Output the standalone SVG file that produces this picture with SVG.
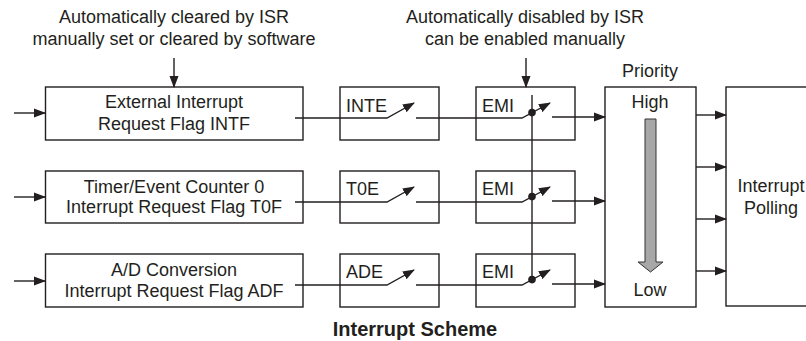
<svg xmlns="http://www.w3.org/2000/svg" width="806" height="341" viewBox="0 0 806 341">
<defs>
<style>
.box{fill:#fff;stroke:#231f20;stroke-width:1.4}
.ln{fill:none;stroke:#231f20;stroke-width:1.4}
.t{font-family:"Liberation Sans",Arial,sans-serif;font-size:18px;fill:#231f20}
.c{text-anchor:middle}
.b{font-weight:bold;font-size:20px}
</style>
<marker id="ah" markerWidth="12" markerHeight="10" refX="11" refY="5" orient="auto" markerUnits="userSpaceOnUse"><path d="M0,0.5 L12,5 L0,9.5 z" fill="#231f20"/></marker>
</defs>
<rect width="806" height="341" fill="#fff"/>

<g id="note-flag">
<text class="t c" x="174" y="23">Automatically cleared by ISR</text>
<text class="t c" x="174" y="45">manually set or cleared by software</text>
</g>
<g id="note-emi">
<text class="t c" x="525" y="23">Automatically disabled by ISR</text>
<text class="t c" x="525" y="45">can be enabled manually</text>
</g>

<g id="flag-intf">
<rect class="box" x="45.5" y="87" width="257.5" height="53"/>
<text class="t c" x="174" y="108">External Interrupt</text>
<text class="t c" x="174" y="130">Request Flag INTF</text>
</g>
<g id="flag-t0f">
<rect class="box" x="45.5" y="171" width="257.5" height="52"/>
<text class="t c" x="174" y="193">Timer/Event Counter 0</text>
<text class="t c" x="174" y="213">Interrupt Request Flag T0F</text>
</g>
<g id="flag-adf">
<rect class="box" x="45.5" y="254" width="257.5" height="53"/>
<text class="t c" x="174" y="276">A/D Conversion</text>
<text class="t c" x="174" y="297">Interrupt Request Flag ADF</text>
</g>

<g id="sw-inte">
<rect class="box" x="340" y="87" width="99" height="53"/>
<text class="t" x="346" y="112">INTE</text>
</g>
<g id="sw-t0e">
<rect class="box" x="340" y="171" width="99" height="52"/>
<text class="t" x="346" y="195">T0E</text>
</g>
<g id="sw-ade">
<rect class="box" x="340" y="254" width="99" height="53"/>
<text class="t" x="346" y="278">ADE</text>
</g>

<g id="emi-1">
<rect class="box" x="476" y="87" width="99" height="53"/>
<text class="t" x="482" y="112">EMI</text>
</g>
<g id="emi-2">
<rect class="box" x="476" y="171" width="99" height="52"/>
<text class="t" x="482" y="195">EMI</text>
</g>
<g id="emi-3">
<rect class="box" x="476" y="254" width="99" height="53"/>
<text class="t" x="482" y="278">EMI</text>
</g>

<g id="priority">
<text class="t c" x="650" y="77">Priority</text>
<rect class="box" x="605" y="87" width="91" height="220"/>
<text class="t c" x="650" y="108">High</text>
<text class="t c" x="650" y="296">Low</text>
<path d="M645,119 H656 V262 H663 L650.5,272 L638,262 H645 Z" fill="#a7a7a7" stroke="#333" stroke-width="1"/>
</g>

<g id="polling">
<rect class="box" x="726" y="87" width="90" height="219"/>
<text class="t c" x="771" y="192">Interrupt</text>
<text class="t c" x="771" y="214">Polling</text>
</g>

<g id="connectors">
<line class="ln" x1="174" y1="58" x2="174" y2="87" marker-end="url(#ah)"/>
<line class="ln" x1="526" y1="58" x2="526" y2="87" marker-end="url(#ah)"/>

<line class="ln" x1="14" y1="113" x2="45" y2="113" marker-end="url(#ah)"/>
<line class="ln" x1="14" y1="197" x2="45" y2="197" marker-end="url(#ah)"/>
<line class="ln" x1="14" y1="281" x2="45" y2="281" marker-end="url(#ah)"/>

<!-- row 1 -->
<polyline class="ln" points="295,118 387,118 414,103" marker-end="url(#ah)"/>
<polyline class="ln" points="416,118 522,118 550,103" marker-end="url(#ah)"/>
<line class="ln" x1="552" y1="117" x2="605" y2="117" marker-end="url(#ah)"/>
<!-- row 2 -->
<polyline class="ln" points="295,202 387,202 414,187" marker-end="url(#ah)"/>
<polyline class="ln" points="416,202 522,202 550,187" marker-end="url(#ah)"/>
<line class="ln" x1="552" y1="201" x2="605" y2="201" marker-end="url(#ah)"/>
<!-- row 3 -->
<polyline class="ln" points="295,285 387,285 414,270" marker-end="url(#ah)"/>
<polyline class="ln" points="416,285 522,285 550,270" marker-end="url(#ah)"/>
<line class="ln" x1="552" y1="284" x2="605" y2="284" marker-end="url(#ah)"/>

<line class="ln" x1="532" y1="95" x2="532" y2="280"/>
<circle cx="532" cy="112.6" r="3.8" fill="#231f20"/>
<circle cx="532" cy="196.6" r="3.8" fill="#231f20"/>
<circle cx="532" cy="279.6" r="3.8" fill="#231f20"/>

<line class="ln" x1="696" y1="115" x2="726" y2="115" marker-end="url(#ah)"/>
<line class="ln" x1="696" y1="167" x2="726" y2="167" marker-end="url(#ah)"/>
<line class="ln" x1="696" y1="219" x2="726" y2="219" marker-end="url(#ah)"/>
<line class="ln" x1="696" y1="271" x2="726" y2="271" marker-end="url(#ah)"/>
</g>

<text class="t c b" x="415" y="336">Interrupt Scheme</text>
</svg>
